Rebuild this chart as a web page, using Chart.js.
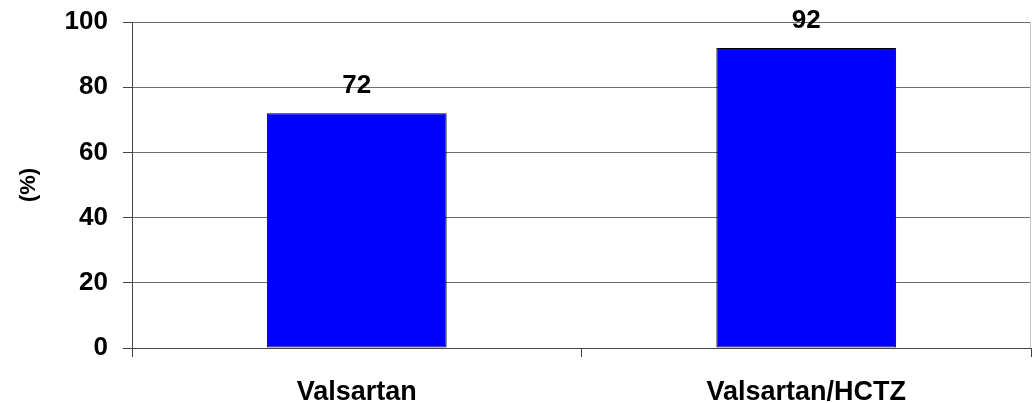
<!DOCTYPE html>
<html>
<head>
<meta charset="utf-8">
<script src="https://cdn.jsdelivr.net/npm/chart.js@4/dist/chart.umd.min.js"></script>
<style>
  html, body { margin: 0; padding: 0; background: #fff; }
  #wrap { width: 1032px; height: 403px; }
</style>
</head>
<body>
<div id="wrap"><canvas id="chart" width="1032" height="403"></canvas></div>
<script>
// chart data
const categories = ['Valsartan', 'Valsartan/HCTZ'];
const values = [72, 92];
const yTicks = [0, 20, 40, 60, 80, 100];

const FONT = 'Liberation Sans, Arial, sans-serif';

// value labels above bars
const barLabels = {
    id: 'barLabels',
    afterDatasetsDraw(chart) {
        const ctx = chart.ctx;
        const meta = chart.getDatasetMeta(0);
        ctx.save();
        ctx.font = 'bold 26px ' + FONT;
        ctx.fillStyle = '#000';
        ctx.textAlign = 'center';
        ctx.textBaseline = 'middle';
        meta.data.forEach((bar, i) => {
            ctx.fillText(values[i], bar.x, bar.y - 27);
        });
        ctx.restore();
    }
};

// faint right border of plot area
const rightBorder = {
    id: 'rightBorder',
    beforeDatasetsDraw(chart) {
        const a = chart.chartArea;
        const ctx = chart.ctx;
        ctx.save();
        ctx.strokeStyle = '#c8c8c8';
        ctx.lineWidth = 1;
        ctx.beginPath();
        ctx.moveTo(a.right - 0.5, a.top);
        ctx.lineTo(a.right - 0.5, a.bottom);
        ctx.stroke();
        ctx.restore();
    }
};

new Chart(document.getElementById('chart'), {
    type: 'bar',
    data: {
        labels: categories,
        datasets: [{
            data: values,
            backgroundColor: '#0000ff',
            borderColor: '#000',
            borderWidth: 1,
            borderSkipped: false,
            categoryPercentage: 1,
            barPercentage: 0.4
        }]
    },
    options: {
        responsive: false,
        animation: false,
        layout: { padding: { top: 22, right: 1, left: 0, bottom: 0 } },
        plugins: {
            legend: { display: false },
            tooltip: { enabled: false }
        },
        scales: {
            x: {
                offset: true,
                grid: {
                    offset: true,
                    drawOnChartArea: false,
                    drawTicks: true,
                    tickLength: 9,
                    color: '#444'
                },
                border: { color: '#444', width: 1 },
                ticks: {
                    color: '#000',
                    padding: 19,
                    font: { family: FONT, size: 27, weight: 'bold' }
                },
                afterFit(scale) { scale.height = 55; }
            },
            y: {
                min: 0,
                max: 100,
                afterBuildTicks(scale) {
                    scale.ticks = yTicks.map(v => ({ value: v }));
                },
                grid: {
                    color: '#6e6e6e',
                    tickLength: 9,
                    tickColor: '#444'
                },
                border: { color: '#444', width: 1 },
                ticks: {
                    color: '#000',
                    padding: 15,
                    font: { family: FONT, size: 26, weight: 'bold' }
                },
                title: {
                    display: true,
                    text: '(%)',
                    color: '#000',
                    padding: { top: 16, bottom: 0 },
                    font: { family: FONT, size: 22, weight: 'bold' }
                },
                afterFit(scale) {
                    scale.width = 132;
                    scale.paddingTop = 0;
                    scale.paddingBottom = 0;
                }
            }
        }
    },
    plugins: [barLabels, rightBorder]
});
</script>
</body>
</html>
